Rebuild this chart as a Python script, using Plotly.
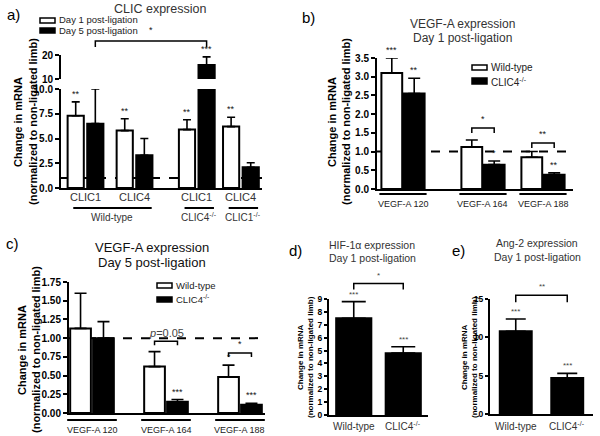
import plotly.graph_objects as go

# ---------------- data ----------------
a_genes = ["CLIC1", "CLIC4", "CLIC1", "CLIC4"]
a_genotypes = ["Wild-type", "CLIC4<sup>-/-</sup>", "CLIC1<sup>-/-</sup>"]
a_day1 = [7.3, 5.8, 5.9, 6.2]
a_day1_err = [1.4, 1.2, 1.0, 0.95]
a_day5 = [6.5, 3.3, 15.8, 2.1]
a_day5_err = [3.5, 1.7, 3.4, 0.45]
a_day1_sig = ["**", "**", "**", "**"]
a_day5_sig = ["", "", "***", ""]
a_pair_sig = "*"

vegf_isoforms = ["VEGF-A 120", "VEGF-A 164", "VEGF-A 188"]
b_wt = [3.1, 1.12, 0.85]
b_wt_err = [0.4, 0.19, 0.15]
b_ko = [2.55, 0.65, 0.38]
b_ko_err = [0.41, 0.1, 0.05]
b_wt_sig = ["***", "", ""]
b_ko_sig = ["**", "*", "**"]
b_pair_sig = ["", "*", "**"]

c_wt = [1.13, 0.62, 0.48]
c_wt_err = [0.47, 0.2, 0.16]
c_ko = [1.0, 0.15, 0.11]
c_ko_err = [0.22, 0.03, 0.02]
c_wt_sig = ["", "", "*"]
c_ko_sig = ["", "***", "***"]
c_pair_sig = ["", "<i>p</i>=0.05", "*"]

de_genotypes = ["Wild-type", "CLIC4<sup>-/-</sup>"]
d_vals = [7.5, 4.8]
d_err = [1.3, 0.5]
d_sig = ["***", "***"]
d_pair_sig = "*"
e_vals = [10.8, 4.7]
e_err = [1.6, 0.6]
e_sig = ["***", "***"]
e_pair_sig = "**"

YT1 = "Change in mRNA"
YT2 = "(normalized to non-ligated limb)"

# ---------------- layout geometry ----------------
W, H = 600, 436
FONT = "Arial, Liberation Sans, sans-serif"
G = {
    "a":  dict(xa="x",  ya="y",  xdom=(61, 262),  xr=(-0.5, 3.6),     ydom=(188, 89),  yr=(0, 10)),
    "a2": dict(xa="x",  ya="y2", xdom=(61, 262),  xr=(-0.5, 3.6),     ydom=(79, 55),   yr=(10, 20)),
    "b":  dict(xa="x2", ya="y3", xdom=(377, 573), xr=(-0.325, 2.125), ydom=(189, 58),  yr=(0, 3.5)),
    "c":  dict(xa="x3", ya="y4", xdom=(69, 265),  xr=(-0.311, 2.338), ydom=(413, 282), yr=(0, 1.75)),
    "d":  dict(xa="x4", ya="y5", xdom=(329, 428), xr=(-0.5, 1.5),     ydom=(415, 299), yr=(0, 9)),
    "e":  dict(xa="x5", ya="y6", xdom=(490, 593), xr=(-0.5, 1.5),     ydom=(414, 299), yr=(0, 15)),
}
a_pos, a_bw, a_off = [0, 1, 2.27, 3.17], 0.33, 0.2
b_pos, b_bw, b_off = [0, 1, 1.75], 0.26, 0.14
c_pos, c_bw, c_off = [0, 1, 2], 0.28, 0.155
d_bw, e_bw = 0.71, 0.62


def fx(p, v):
    g = G[p]
    (x0, x1), (r0, r1) = g["xdom"], g["xr"]
    return (x0 + (v - r0) / (r1 - r0) * (x1 - x0)) / W


def fy(p, v, dpx=0):
    g = G[p]
    (y0, y1), (r0, r1) = g["ydom"], g["yr"]
    pix = y0 + (v - r0) / (r1 - r0) * (y1 - y0) - dpx
    return 1 - pix / H


def PX(x):
    return x / W


def PY(y):
    return 1 - y / H


fig = go.Figure()
shapes = []
ann = []


def bars(p, xs, ys, errs, fill, bw, capw):
    g = G[p]
    fig.add_trace(go.Bar(
        x=xs, y=ys, width=bw, xaxis=g["xa"], yaxis=g["ya"],
        marker=dict(color=fill, line=dict(color="black", width=2)),
        error_y=dict(type="data", array=errs, arrayminus=[0] * len(errs),
                     symmetric=False, color="black", thickness=1.6, width=capw),
        hoverinfo="skip", showlegend=False))


def star(p, x, top, text, size=9, color="#111"):
    if not text:
        return
    ann.append(dict(x=fx(p, x), y=fy(p, top, 1), xref="paper", yref="paper",
                    text=text, showarrow=False, xanchor="center", yanchor="bottom",
                    font=dict(size=size, color=color, family=FONT)))


def bracket(p, x1, x2, level, drop, text, tsize=9, tcolor="#111", gap=2):
    xa, xb = fx(p, x1), fx(p, x2)
    yt, yd = fy(p, level), fy(p, level, -drop)
    shapes.append(dict(type="path", xref="paper", yref="paper",
                       path=f"M {xa},{yd} L {xa},{yt} L {xb},{yt} L {xb},{yd}",
                       line=dict(color="black", width=1.5)))
    ann.append(dict(x=(xa + xb) / 2, y=yt + gap / H, xref="paper", yref="paper",
                    text=text, showarrow=False, xanchor="center", yanchor="bottom",
                    font=dict(size=tsize, color=tcolor, family=FONT)))


def dashed(p, level):
    g = G[p]
    shapes.append(dict(type="line", xref="paper", yref="paper", layer="below",
                       x0=PX(g["xdom"][0]), x1=PX(g["xdom"][1]),
                       y0=fy(p, level), y1=fy(p, level),
                       line=dict(color="black", width=2, dash="dash")))


def text(x, y, t, size, color="black", xanchor="center", angle=0, weight="normal"):
    ann.append(dict(x=PX(x), y=PY(y), xref="paper", yref="paper", text=t, showarrow=False,
                    xanchor=xanchor, yanchor="middle", textangle=angle,
                    font=dict(size=size, color=color, family=FONT, weight=weight)))


def ptext(xp, y, t, size, color="#222"):
    ann.append(dict(x=xp, y=PY(y), xref="paper", yref="paper", text=t, showarrow=False,
                    xanchor="center", yanchor="middle",
                    font=dict(size=size, color=color, family=FONT)))


def hline(xa, xb, y):
    shapes.append(dict(type="line", xref="paper", yref="paper", x0=xa, x1=xb,
                       y0=PY(y), y1=PY(y), line=dict(color="black", width=2)))


def ytitle(x1, x2, y, size):
    text(x1, y, YT1, size, angle=-90, weight="bold")
    text(x2, y, YT2, size, angle=-90, weight="bold")


def legend_box(x0, x1, y0, y1, fill):
    shapes.append(dict(type="rect", xref="paper", yref="paper", x0=PX(x0), x1=PX(x1),
                       y0=PY(y1), y1=PY(y0), fillcolor=fill, line=dict(color="black", width=1.5)))


# ---------------- panel a ----------------
dashed("a", 1.0)
bars("a", [p - a_off for p in a_pos], a_day1, a_day1_err, "white", a_bw, 4)
bars("a", [p + a_off for p in a_pos], a_day5, a_day5_err, "black", a_bw, 4)
hi = [i for i, v in enumerate(a_day5) if v > G["a"]["yr"][1]]
bars("a2", [a_pos[i] + a_off for i in hi], [a_day5[i] for i in hi],
     [a_day5_err[i] for i in hi], "black", a_bw, 4)
for i, p in enumerate(a_pos):
    t1 = a_day1[i] + a_day1_err[i]
    star("a" if t1 <= 10 else "a2", p - a_off, t1, a_day1_sig[i])
    t5 = a_day5[i] + a_day5_err[i]
    star("a" if t5 <= 10 else "a2", p + a_off, t5, a_day5_sig[i])
    ptext(fx("a", p), 197, a_genes[i], 11, "#333")
bracket("a2", a_pos[0] + a_off, a_pos[2] + a_off, 25.8, 6, a_pair_sig, gap=4)
spans = [(a_pos[0], a_pos[1]), (a_pos[2], a_pos[2]), (a_pos[3], a_pos[3])]
for (l, r), lab in zip(spans, a_genotypes):
    x0, x1 = fx("a", l - 0.25), fx("a", r + 0.35)
    hline(x0, x1, 208)
    ptext((x0 + x1) / 2, 217, lab, 10, "#333")
legend_box(40, 55, 18, 23, "white")
legend_box(40, 55, 28, 33, "black")
text(57, 20, "Day 1 post-ligation", 9.5, "#222", xanchor="left")
text(57, 31, "Day 5 post-ligation", 9.5, "#222", xanchor="left")
text(160, 9, "CLIC expression", 12.5, "#333")
text(13, 15, "a)", 15)
ytitle(18, 33, 122, 11)

# ---------------- panel b ----------------
dashed("b", 1.0)
bars("b", [p - b_off for p in b_pos], b_wt, b_wt_err, "white", b_bw, 6)
bars("b", [p + b_off for p in b_pos], b_ko, b_ko_err, "black", b_bw, 6)
b_levels = [None, 1.63, 1.23]
for i, p in enumerate(b_pos):
    star("b", p - b_off, b_wt[i] + b_wt_err[i], b_wt_sig[i])
    star("b", p + b_off, b_ko[i] + b_ko_err[i], b_ko_sig[i])
    if b_pair_sig[i]:
        bracket("b", p - b_off, p + b_off, b_levels[i], 5, b_pair_sig[i])
    x0, x1 = fx("b", p - b_off - b_bw / 2) - 2 / W, fx("b", p + b_off + b_bw / 2) + 2 / W
    hline(x0, x1, 194)
    ptext((x0 + x1) / 2, 204, vegf_isoforms[i], 9)
legend_box(472, 487, 65, 70, "white")
legend_box(472, 487, 78, 84, "black")
text(489, 67, "Wild-type", 10, "#222", xanchor="left")
text(489, 82, "CLIC4<sup>-/-</sup>", 10, "#222", xanchor="left")
text(462, 24, "VEGF-A expression", 12, "#333")
text(462, 38, "Day 1 post-ligation", 12, "#333")
text(308, 17, "b)", 15)
ytitle(332, 346, 122, 11)

# ---------------- panel c ----------------
dashed("c", 1.0)
bars("c", [p - c_off for p in c_pos], c_wt, c_wt_err, "white", c_bw, 6)
bars("c", [p + c_off for p in c_pos], c_ko, c_ko_err, "black", c_bw, 6)
c_levels = [None, 0.96, 0.80]
for i, p in enumerate(c_pos):
    star("c", p - c_off, c_wt[i] + c_wt_err[i], c_wt_sig[i])
    star("c", p + c_off, c_ko[i] + c_ko_err[i], c_ko_sig[i])
    if c_pair_sig[i]:
        big = "=" in c_pair_sig[i]
        bracket("c", p - c_off, p + c_off, c_levels[i], 4, c_pair_sig[i],
                tsize=11 if big else 9, tcolor="#444" if big else "#111", gap=0 if big else 2)
    x0, x1 = fx("c", p - c_off - c_bw / 2) - 3 / W, fx("c", p + c_off + c_bw / 2) + 3 / W
    hline(x0, x1, 420)
    ptext((x0 + x1) / 2, 430, vegf_isoforms[i], 9)
legend_box(157, 172, 283, 288, "white")
legend_box(157, 172, 297, 302, "black")
text(174, 285, "Wild-type", 9.5, "#222", xanchor="left")
text(174, 299, "CLIC4<sup>-/-</sup>", 9.5, "#222", xanchor="left")
text(152, 247, "VEGF-A expression", 13, "#111")
text(152, 262, "Day 5 post-ligation", 13, "#111")
text(12, 243, "c)", 15)
ytitle(22, 36, 350, 11)

# ---------------- panel d ----------------
bars("d", [0, 1], d_vals, d_err, "black", d_bw, 12)
for i in range(2):
    star("d", i, d_vals[i] + d_err[i], d_sig[i], size=8, color="#444")
    ptext(fx("d", i), 426, de_genotypes[i], 10, "#333")
bracket("d", 0, 1, 10.2, 6, d_pair_sig, tsize=8, tcolor="#444")
text(372, 245, "HIF-1α expression", 10.5, "#333")
text(372, 258, "Day 1 post-ligation", 10.5, "#333")
text(295, 250, "d)", 15)
ytitle(300, 310, 357, 8)

# ---------------- panel e ----------------
bars("e", [0, 1], e_vals, e_err, "black", e_bw, 10)
for i in range(2):
    star("e", i, e_vals[i] + e_err[i], e_sig[i], size=8, color="#444")
    ptext(fx("e", i), 426, de_genotypes[i], 10, "#333")
bracket("e", 0, 1, 15.5, 7, e_pair_sig, tsize=8, tcolor="#444")
text(537, 243, "Ang-2 expression", 10.5, "#333")
text(537, 257, "Day 1 post-ligation", 10.5, "#333")
text(458, 250, "e)", 15)
ytitle(464, 474, 357, 8)

# ---------------- axes ----------------
layout = dict(width=W, height=H, margin=dict(l=0, r=0, t=0, b=0),
              paper_bgcolor="white", plot_bgcolor="rgba(0,0,0,0)",
              barmode="overlay", showlegend=False, template="none",
              font=dict(family=FONT, color="black"),
              shapes=shapes, annotations=ann)


def xaxis(p):
    g = G[p]
    return dict(domain=[PX(g["xdom"][0]), PX(g["xdom"][1])], range=list(g["xr"]),
                anchor=g["ya"], showline=True, linecolor="black", linewidth=2,
                ticks="", showgrid=False, zeroline=False, showticklabels=False,
                fixedrange=True)


def yaxis(p, tickvals, ticktext, size=10, ticklen=4):
    g = G[p]
    return dict(domain=[PY(g["ydom"][0]), PY(g["ydom"][1])], range=list(g["yr"]),
                anchor=g["xa"], showline=True, linecolor="black", linewidth=2,
                ticks="outside", ticklen=ticklen, tickwidth=2, tickcolor="black",
                tickmode="array", tickvals=tickvals, ticktext=ticktext,
                showgrid=False, zeroline=False, showticklabels=True,
                ticklabeloverflow="allow", ticklabelposition="outside",
                tickfont=dict(size=size, color="black", family=FONT, weight="bold"),
                fixedrange=True)


def ticks(vals, fmt):
    return [format(v, fmt) for v in vals]


a_ticks = [0, 2.5, 5, 7.5, 10]
a2_ticks = [10, 20]
b_ticks = [i * 0.5 for i in range(8)]
c_ticks = [i * 0.25 for i in range(8)]
d_ticks = list(range(10))
e_ticks = [0, 5, 10, 15]

layout["xaxis"] = xaxis("a")
layout["yaxis"] = yaxis("a", a_ticks, ticks(a_ticks, ".1f"))
layout["yaxis2"] = yaxis("a2", a2_ticks, ticks(a2_ticks, ".0f"))
layout["xaxis2"] = xaxis("b")
layout["yaxis3"] = yaxis("b", b_ticks, ticks(b_ticks, ".1f"))
layout["xaxis3"] = xaxis("c")
layout["yaxis4"] = yaxis("c", c_ticks, ticks(c_ticks, ".2f"))
layout["xaxis4"] = xaxis("d")
layout["yaxis5"] = yaxis("d", d_ticks, ticks(d_ticks, ".0f"), 8.5, 3)
layout["xaxis5"] = xaxis("e")
layout["yaxis6"] = yaxis("e", e_ticks, ticks(e_ticks, ".0f"), 8.5, 3)

fig.update_layout(**layout)
fig.write_html("out.html", config={"displayModeBar": False, "staticPlot": True},
               post_script="document.body.style.margin='0px';document.body.style.padding='0px';")
